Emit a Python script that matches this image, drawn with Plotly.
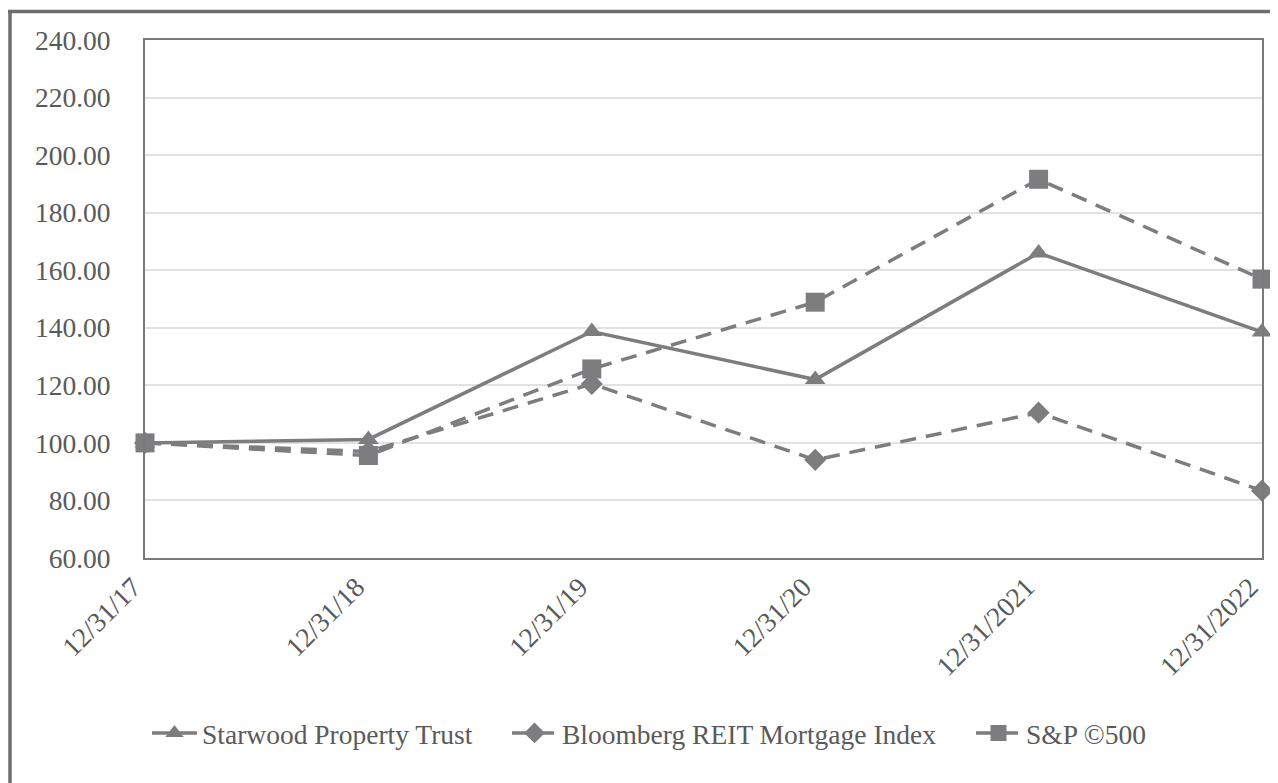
import plotly.graph_objects as go

categories = ["12/31/17", "12/31/18", "12/31/19", "12/31/20", "12/31/2021", "12/31/2022"]
starwood = [100.0, 101.2, 138.7, 122.0, 166.0, 138.5]
bloomberg = [100.0, 97.0, 120.5, 94.1, 110.5, 83.4]
sp500 = [100.0, 95.6, 125.7, 148.9, 191.6, 156.9]
y_ticks = [60, 80, 100, 120, 140, 160, 180, 200, 220, 240]
y_tick_labels = [f"{v:.2f}" for v in y_ticks]

xpos = list(range(len(categories)))
col = "#7d7d7f"
txt = "#5a5a5a"
font_fam = "Liberation Serif, Times New Roman, serif"

# page offset of the plot div inside the body (default body margin)
OFF = 8
W, H = 1270, 775
L, R, T, B = 137, 16, 32, 225
pw, ph = W - L - R, H - T - B


def px_x(px):
    return (px - OFF - L) / pw


def px_y(py):
    return (H - B - (py - OFF)) / ph


fig = go.Figure()
fig.add_trace(go.Scatter(
    x=xpos, y=starwood, name="Starwood Property Trust", mode="lines+markers",
    line=dict(color=col, width=3.5),
    marker=dict(symbol="triangle-up", size=18, color=col),
    cliponaxis=False, legend="legend"))
fig.add_trace(go.Scatter(
    x=xpos, y=bloomberg, name="Bloomberg REIT Mortgage Index", mode="lines+markers",
    line=dict(color=col, width=3.5, dash="16px,10px"),
    marker=dict(symbol="diamond", size=17, color=col),
    cliponaxis=False, legend="legend2"))
fig.add_trace(go.Scatter(
    x=xpos, y=sp500, name="S&P ©500", mode="lines+markers",
    line=dict(color=col, width=3.5, dash="16px,10px"),
    marker=dict(symbol="square", size=19, color=col),
    cliponaxis=False, legend="legend3"))

leg_common = dict(orientation="h", xanchor="left", yanchor="middle", y=px_y(733),
                  font=dict(size=27.5, color=txt, family=font_fam), itemwidth=45,
                  bgcolor="rgba(0,0,0,0)")

fig.update_layout(
    width=W, height=H,
    margin=dict(l=L, r=R, t=T, b=B, pad=0),
    paper_bgcolor="white", plot_bgcolor="white",
    font=dict(family=font_fam, color=txt, size=27),
    showlegend=True,
    legend=dict(x=px_x(147), **leg_common),
    legend2=dict(x=px_x(507), **leg_common),
    legend3=dict(x=px_x(971), **leg_common),
    xaxis=dict(
        range=[0, len(categories) - 1], tickmode="array", tickvals=xpos, ticktext=categories,
        tickangle=-45, showgrid=False, zeroline=False, ticks="",
        showline=True, linecolor="#7a7a7a", linewidth=2, mirror=True,
        tickfont=dict(size=27.5, family=font_fam, color=txt),
        ticklabelstandoff=0, ticklabelshift=-12),
    yaxis=dict(
        range=[60, 240], tickmode="array", tickvals=y_ticks, ticktext=y_tick_labels,
        showgrid=True, gridcolor="#e2e2e2", gridwidth=1.5, zeroline=False, ticks="",
        showline=True, linecolor="#7a7a7a", linewidth=2, mirror=True,
        tickfont=dict(size=27.5, family=font_fam, color=txt), ticklabelstandoff=27),
    shapes=[
        dict(type="line", xref="paper", yref="paper", x0=px_x(10), x1=px_x(10), y0=px_y(800), y1=px_y(11.5),
             line=dict(color="#6e6e6e", width=3.5)),
        dict(type="line", xref="paper", yref="paper", x0=px_x(8), x1=px_x(1290), y0=px_y(11.5), y1=px_y(11.5),
             line=dict(color="#6e6e6e", width=3.5)),
    ],
)

fig.write_html("out.html")
